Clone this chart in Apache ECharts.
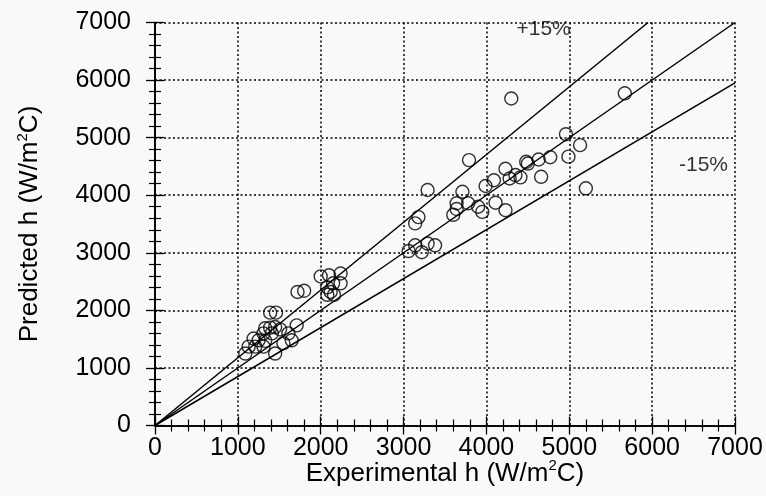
<!DOCTYPE html>
<html>
<head>
<meta charset="utf-8">
<script src="https://cdn.jsdelivr.net/npm/echarts@6/dist/echarts.min.js"></script>
<style>html,body{margin:0;padding:0;background:#f9f9f9;}#c{width:766px;height:496px;}</style>
</head>
<body>
<div id="c"></div>
<script>
// Experimental h (x) vs Predicted h (y), W/m2C
const experimental = [
  1090,1130,1190,1210,1250,1310,1330,1310,1330,1390,1410,1450,1510,1450,1550,1610,1650,1710,1390,1460,1720,1800,
  2000,2100,2240,2150,2240,2080,2120,2160,2080,
  3060,3140,3220,3290,3380,3140,3180,3290,
  3600,3640,3640,3710,3780,3790,3900,3950,3990,
  4090,4110,4230,4230,4280,4350,4410,4300,4480,4500,
  4630,4660,4770,4960,4990,5130,5200,5670
];
const predicted = [
  1250,1370,1510,1370,1480,1370,1470,1600,1690,1700,1600,1710,1670,1250,1430,1600,1480,1740,1960,1960,2320,2340,
  2590,2610,2640,2470,2470,2400,2320,2270,2270,
  3030,3130,3010,3160,3130,3510,3620,4090,
  3660,3760,3860,4060,3860,4610,3800,3710,4160,
  4260,3870,4460,3740,4290,4350,4310,5680,4580,4550,
  4620,4320,4660,5060,4670,4870,4120,5770
];
const parityLine = [[0,0],[7000,7000]];
const plusLine = [[0,0],[5950,7000]];
const minusLine = [[0,0],[7000,5950]];
const bandLabels = [
  {text:'+15%', x:4690, y:6880},
  {text:'-15%', x:6620, y:4520}
];
const axisTicks = {min:0, max:7000, interval:1000};
const xTitle = '{t|Experimental h (W/m}{sup|2}{t|C)}';
const yTitle = '{t|Predicted h (W/m}{sup|2}{t|C)}';

const points = experimental.map((v,i)=>[v, predicted[i]]);
const FONT = 'Liberation Sans';
const richSup = {
  t:{fontSize:26, fontFamily:FONT, color:'#000', lineHeight:30, verticalAlign:'middle'},
  sup:{fontSize:15, fontFamily:FONT, color:'#000', lineHeight:15, verticalAlign:'top'}
};

function baseAxis(show){
  return {
    type:'value', min:axisTicks.min, max:axisTicks.max, interval:axisTicks.interval,
    axisLine:{show:true, lineStyle:{color:'#000', width:1.6}},
    axisTick:{show:true, inside:true, length:9, lineStyle:{color:'#000', width:1.3}},
    minorTick:{show:true, splitNumber:5, length:6, lineStyle:{color:'#000', width:1.2}},
    splitLine:{show:show, lineStyle:{color:'#000', width:1.5, type:[2,2.5]}},
    minorSplitLine:{show:false}
  };
}
const fmt = v => String(v);
const xMain = Object.assign(baseAxis(true), {
  position:'bottom',
  axisLabel:{fontSize:25, fontFamily:FONT, color:'#000', margin:10, formatter:fmt},
  name:xTitle, nameLocation:'middle', nameGap:33, nameMoveOverlap:false,
  nameTextStyle:{fontSize:26, fontFamily:FONT, color:'#000', rich:richSup}
});
const xTop = Object.assign(baseAxis(false), {position:'top', axisLabel:{show:false}});
const yMain = Object.assign(baseAxis(true), {
  position:'left',
  axisLabel:{fontSize:25, fontFamily:FONT, color:'#000', margin:24, formatter:fmt},
  name:yTitle, nameLocation:'middle', nameGap:110, nameRotate:90, nameMoveOverlap:false,
  nameTextStyle:{fontSize:26, fontFamily:FONT, color:'#000', rich:richSup}
});
const yRight = Object.assign(baseAxis(false), {position:'right', axisLabel:{show:false}});

const chart = echarts.init(document.getElementById('c'), null, {renderer:'canvas'});
chart.setOption({
  backgroundColor:'#f9f9f9',
  animation:false,
  grid:{left:155, right:31, top:22.5, bottom:70.5, containLabel:false},
  xAxis:[xMain, xTop],
  yAxis:[yMain, yRight],
  series:[
    {type:'line', data:parityLine, symbol:'none', lineStyle:{color:'#000', width:1.5}, z:3},
    {type:'line', data:plusLine, symbol:'none', lineStyle:{color:'#000', width:1.5}, z:3},
    {type:'line', data:minusLine, symbol:'none', lineStyle:{color:'#000', width:1.5}, z:3},
    {type:'scatter', data:points, symbol:'circle', symbolSize:13,
     itemStyle:{color:'rgba(0,0,0,0)', borderColor:'#000', borderWidth:1.4}, z:4},
    {type:'scatter', data:bandLabels.map(d=>({value:[d.x,d.y], name:d.text})), symbolSize:0,
     label:{show:true, position:'inside', formatter:p=>p.name, fontSize:21, fontFamily:FONT, color:'#000'}, z:5}
  ]
});
</script>
</body>
</html>
